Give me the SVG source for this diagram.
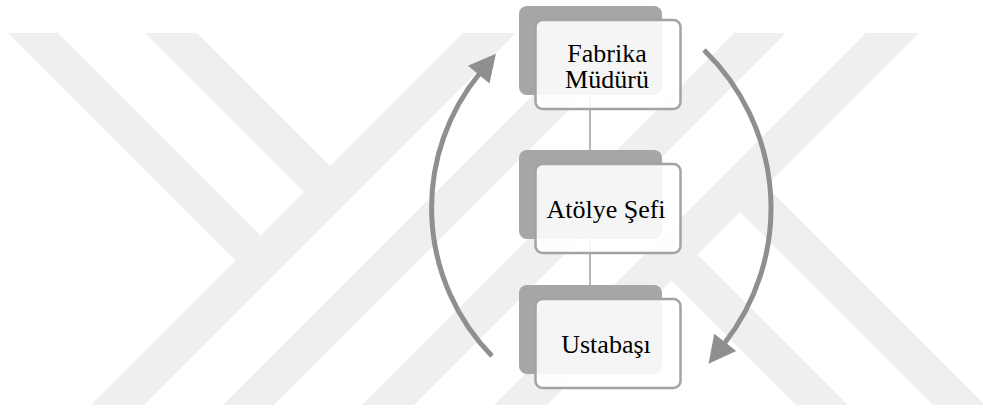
<svg xmlns="http://www.w3.org/2000/svg" width="983" height="410" viewBox="0 0 983 410">
  <style>
    .band { fill: #efefef; }
    .back { fill: #a6a6a6; }
    .front { fill: #ffffff; fill-opacity: 0.89; stroke: #a3a3a3; stroke-width: 2.5; }
    .label { font-family: "Liberation Serif", "Times New Roman", serif; font-size: 26px; fill: #000000; text-anchor: middle; }
    .link { stroke: #a0a0a0; stroke-width: 1.5; fill: none; }
    .flow { stroke: #8f8f8f; stroke-width: 5; fill: none; marker-end: url(#head); }
  </style>
  <defs>
    <marker id="head" markerUnits="userSpaceOnUse" markerWidth="30" markerHeight="30" viewBox="0 -15 30 30" refX="2" refY="0" orient="auto" overflow="visible">
      <path d="M0,-14 L27,0 L0,14 z" fill="#8f8f8f"/>
    </marker>
  </defs>

  <rect width="983" height="410" fill="#ffffff"/>

  <!-- background band pattern -->
  <g id="backdrop">
    <polygon class="band" points="463,33 516,33 144,405 91,405"/>
    <polygon class="band" points="595,33 646,33 274,405 223,405"/>
    <polygon class="band" points="734,33 786,33 414,405 362,405"/>
    <polygon class="band" points="866,33 919,33 547,405 494,405"/>
    <polygon class="band" points="8,33 58,33 262.5,237.5 237.5,262.5"/>
    <polygon class="band" points="145,33 197,33 332,168 306,194"/>
    <polygon class="band" points="695.5,252.5 848,405 796,405 669.5,278.5"/>
    <polygon class="band" points="764,184 985,405 933,405 738,210"/>
  </g>

  <!-- connectors -->
  <g id="connectors">
    <line class="link" x1="590" y1="50" x2="590" y2="330"/>
    <path class="flow" d="M492,356 A212,212 0 0 1 480,73"/>
    <path class="flow" d="M704,50 A220,220 0 0 1 724,344"/>
  </g>

  <g id="node-fabrika-muduru">
    <rect class="back" x="519" y="6" width="143" height="89" rx="8"/>
    <rect class="front" x="535.5" y="20" width="145" height="89" rx="7"/>
    <text class="label" x="607" y="62">Fabrika</text>
    <text class="label" x="607" y="87.5">Müdürü</text>
  </g>

  <g id="node-atolye-sefi">
    <rect class="back" x="519" y="150" width="143" height="89" rx="8"/>
    <rect class="front" x="535.5" y="164" width="145" height="89" rx="7"/>
    <text class="label" x="606" y="218">Atölye Şefi</text>
  </g>

  <g id="node-ustabasi">
    <rect class="back" x="519" y="285" width="143" height="89" rx="8"/>
    <rect class="front" x="535.5" y="299" width="145" height="89" rx="7"/>
    <text class="label" x="606" y="353">Ustabaşı</text>
  </g>
</svg>
